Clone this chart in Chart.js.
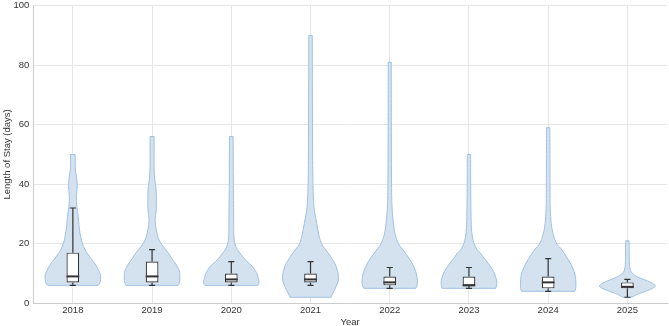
<!DOCTYPE html>
<html>
<head>
<meta charset="utf-8">
<script src="https://cdn.jsdelivr.net/npm/chart.js@4.4.0/dist/chart.umd.min.js"></script>
<style>
  html, body { margin: 0; padding: 0; background: #fff; }
  #wrap { width: 669px; height: 326px; }
</style>
</head>
<body>
<div id="wrap"><canvas id="losChart"></canvas></div>
<script>
// categories
const years = ['2018', '2019', '2020', '2021', '2022', '2023', '2024', '2025'];

// box plot stats (days)
const whiskerLow  = [6, 6, 6, 6, 5, 5, 4, 2];
const q1          = [7, 7, 7, 7, 6, 6, 5, 5];
const median      = [9, 9, 8, 8, 7, 6, 7, 5.5];
const q3          = [17, 14, 10, 10, 9, 9, 9, 7];
const whiskerHigh = [32, 18, 14, 14, 12, 12, 15, 8];

// violin profiles: [days, relative density]
const violin2018 = [[6,25],[7,27],[9,27.5],[10,27],[12,24],[13.2,22],[15,18],[16.6,14.6],[18,12],[20,9.5],[22,8],[25,6.5],[30,5],[33,3.8],[36,3.5],[39,4.3],[42,3.8],[45,2.5],[50,2.3]];
const violin2019 = [[6,26],[7.5,27.5],[10.4,27.3],[12,25.5],[13.2,23.5],[15,19.5],[16.6,16.7],[18,13.5],[20,9],[22,6],[25,4],[28,3],[31,4],[35,4.2],[39,3.8],[42,2.5],[46,2],[50,2],[56,2]];
const violin2020 = [[6,26],[7,27.3],[9.5,25.7],[11,23.5],[12.4,20.7],[14,15.5],[15.5,11.5],[16.6,9],[18,6],[20,3.5],[23,2.5],[30,2.3],[40,2],[56,1.8]];
const violin2021 = [[2,20],[2.6,20.5],[4,22.5],[5.5,24.5],[7.5,26.7],[9.8,26.7],[11.5,25.5],[13.2,23.7],[15,20.5],[16.6,17.5],[18.5,13.5],[20,10.5],[23,8],[26.8,6],[30,4.3],[32.4,3.3],[38,2.5],[50,2],[70,1.8],[90,1.7]];
const violin2022 = [[5,26],[6,27.3],[7.5,27.7],[9.8,26.7],[11.5,25],[13.2,22.7],[15,19.5],[16.6,16],[18.5,12],[20,8.7],[23,5.5],[26.8,3.7],[32.4,2.3],[40,1.8],[60,1.6],[81,1.5]];
const violin2023 = [[5,26],[6,27],[7.5,27],[9.8,25],[11.5,22.5],[13.2,19],[15,15],[16.6,11.7],[18,8],[20,5],[22,3.5],[25,2.5],[30,2],[40,1.7],[50,1.6]];
const violin2024 = [[4,26],[5,26.8],[6.4,27],[8,26.8],[9.8,26],[11.5,24.3],[13.2,22],[15,19],[16.6,16],[18.5,12],[20,8.3],[23,5],[26.8,3],[32,2],[40,1.8],[59,1.6]];
const violin2025 = [[2,4.5],[3,10],[3.5,14],[4.5,22],[5.6,27.8],[6.5,26],[7.5,20],[8.7,11],[9.5,7],[10.4,4],[11.9,2.5],[14,2],[21,1.7]];
const violins = [violin2018, violin2019, violin2020, violin2021, violin2022, violin2023, violin2024, violin2025];

// tick labels
const yTicks = [0, 20, 40, 60, 80, 100];

const FONT = '"Liberation Sans", Arial, sans-serif';

// catmull-rom through points
function curveThrough(ctx, pts) {
  for (let i = 0; i < pts.length - 1; i++) {
    const p0 = pts[i - 1] || pts[i];
    const p1 = pts[i];
    const p2 = pts[i + 1];
    const p3 = pts[i + 2] || p2;
    ctx.bezierCurveTo(
      p1[0] + (p2[0] - p0[0]) / 6, p1[1] + (p2[1] - p0[1]) / 6,
      p2[0] - (p3[0] - p1[0]) / 6, p2[1] - (p3[1] - p1[1]) / 6,
      p2[0], p2[1]
    );
  }
}

const violinPlugin = {
  id: 'violins',
  beforeDatasetsDraw(chart) {
    const { ctx, scales: { x, y } } = chart;
    const half = (x.getPixelForValue(1) - x.getPixelForValue(0)) * 0.35;
    violins.forEach((prof, i) => {
      const cx = x.getPixelForValue(i);
      const maxD = Math.max(...prof.map(p => p[1]));
      const right = prof.map(p => [cx + p[1] / maxD * half, y.getPixelForValue(p[0])]);
      const left = prof.map(p => [cx - p[1] / maxD * half, y.getPixelForValue(p[0])]).reverse();
      ctx.save();
      ctx.beginPath();
      ctx.moveTo(right[0][0], right[0][1]);
      curveThrough(ctx, right);
      ctx.lineTo(left[0][0], left[0][1]);
      curveThrough(ctx, left);
      ctx.closePath();
      ctx.fillStyle = '#d3e2ee';
      ctx.fill();
      ctx.lineWidth = 1;
      ctx.strokeStyle = '#9fc1e2';
      ctx.stroke();
      ctx.restore();
    });
  },
  afterDatasetsDraw(chart) {
    const { ctx, scales: { x, y } } = chart;
    const bw = (x.getPixelForValue(1) - x.getPixelForValue(0)) * 0.16;
    const cap = bw * 0.24;
    ctx.save();
    ctx.strokeStyle = '#333';
    years.forEach((_, i) => {
      const cx = x.getPixelForValue(i);
      ctx.lineWidth = 1.2;
      ctx.beginPath();
      ctx.moveTo(cx, y.getPixelForValue(q3[i]));
      ctx.lineTo(cx, y.getPixelForValue(whiskerHigh[i]));
      ctx.moveTo(cx - cap, y.getPixelForValue(whiskerHigh[i]));
      ctx.lineTo(cx + cap, y.getPixelForValue(whiskerHigh[i]));
      ctx.moveTo(cx, y.getPixelForValue(q1[i]));
      ctx.lineTo(cx, y.getPixelForValue(whiskerLow[i]));
      ctx.moveTo(cx - cap, y.getPixelForValue(whiskerLow[i]));
      ctx.lineTo(cx + cap, y.getPixelForValue(whiskerLow[i]));
      ctx.stroke();
      ctx.lineWidth = 2;
      ctx.beginPath();
      ctx.moveTo(cx - bw / 2, y.getPixelForValue(median[i]));
      ctx.lineTo(cx + bw / 2, y.getPixelForValue(median[i]));
      ctx.stroke();
    });
    ctx.restore();
  }
};

const data = {
  labels: years,
  datasets: [{
    label: 'IQR',
    data: years.map((_, i) => [q1[i], q3[i]]),
    backgroundColor: '#ffffff',
    borderColor: '#333',
    borderWidth: 1.2,
    borderSkipped: false,
    barPercentage: 0.16,
    categoryPercentage: 1
  }]
};

const config = {
  type: 'bar',
  data: data,
  plugins: [violinPlugin],
  options: {
    responsive: true,
    maintainAspectRatio: false,
    animation: false,
    layout: { padding: { top: 1, right: 2, left: 0, bottom: 0 } },
    plugins: {
      legend: { display: false },
      tooltip: { enabled: false }
    },
    scales: {
      x: {
        offset: true,
        grid: { offset: false, color: '#e6e6e6', drawTicks: false },
        border: { color: '#cccccc' },
        ticks: { color: '#333', padding: 1, font: { family: FONT, size: 9.5 } },
        title: { display: true, text: 'Year', color: '#333', padding: { top: 0, bottom: -2 }, font: { family: FONT, size: 9.5 } }
      },
      y: {
        min: 0,
        max: 100,
        afterBuildTicks: s => { s.ticks = yTicks.map(v => ({ value: v })); },
        grid: { color: '#e6e6e6', drawTicks: true, tickLength: 4, tickColor: 'rgba(0,0,0,0)' },
        border: { color: '#cccccc' },
        ticks: { color: '#333', padding: 0, font: { family: FONT, size: 9.5 } },
        title: { display: true, text: 'Length of Stay (days)', color: '#333', padding: { top: 2, bottom: 0 }, font: { family: FONT, size: 9.5 } }
      }
    }
  }
};

const losChart = new Chart(document.getElementById('losChart'), config);
</script>
</body>
</html>
